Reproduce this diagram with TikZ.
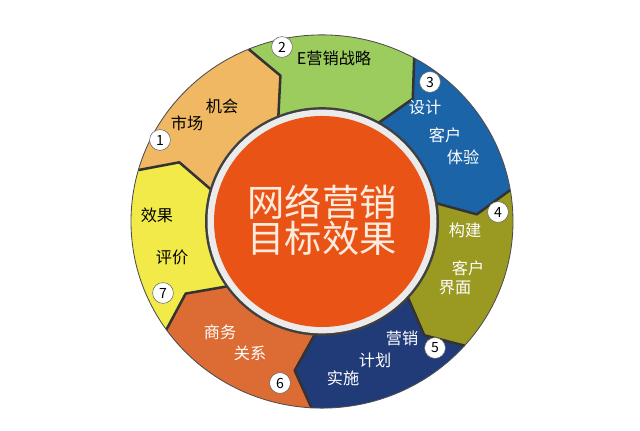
\documentclass[tikz,border=0pt]{standalone}
\usepackage{fontspec}
\setmainfont{Noto Sans CJK SC}

\definecolor{segone}{HTML}{F0B862}
\definecolor{segtwo}{HTML}{9CCB5E}
\definecolor{segthree}{HTML}{1B64A8}
\definecolor{segfour}{HTML}{9A9A22}
\definecolor{segfive}{HTML}{213A78}
\definecolor{segsix}{HTML}{DC6C34}
\definecolor{segseven}{HTML}{F2EA48}
\definecolor{hubfill}{HTML}{EA5316}
\definecolor{hubtext}{HTML}{FDEBDD}

\begin{document}
\begin{tikzpicture}[
    x=0.025cm, y=0.025cm,
    edge/.style={line width=1.8pt, draw=black!80, line join=round},
    rim/.style={line width=0.6pt, draw=black!70},
    badge/.style={circle, draw=black!60, fill=white, minimum size=0.52cm, inner sep=0pt, font=\fontsize{10}{10}\selectfont},
    segtext/.style={inner sep=0pt, font=\fontsize{11.5}{12}\selectfont},
    darktext/.style={segtext, text=black},
    lighttext/.style={segtext, text=white},
    goaltext/.style={align=center, text=hubtext, font=\fontsize{26.5}{26}\selectfont}
]

    \useasboundingbox (0,0) rectangle (640,431);
    \fill[white] (0,0) rectangle (640,431);

    \begin{scope}[shift={(322,209.5)}, yscale=0.977]
        % Segments
        \fill[segone] (164:191) arc[start angle=164, end angle=112.57, radius=191] -- (105.57:155) -- (112.57:114) arc[start angle=112.57, end angle=164, radius=114] -- (157:155) -- cycle;
        \fill[segtwo] (112.57:191) arc[start angle=112.57, end angle=61.14, radius=191] -- (54.14:155) -- (61.14:114) arc[start angle=61.14, end angle=112.57, radius=114] -- (105.57:155) -- cycle;
        \fill[segthree] (61.14:191) arc[start angle=61.14, end angle=9.71, radius=191] -- (2.71:155) -- (9.71:114) arc[start angle=9.71, end angle=61.14, radius=114] -- (54.14:155) -- cycle;
        \fill[segfour] (9.71:191) arc[start angle=9.71, end angle=-41.71, radius=191] -- (-48.71:155) -- (-41.71:114) arc[start angle=-41.71, end angle=9.71, radius=114] -- (2.71:155) -- cycle;
        \fill[segfive] (-41.71:191) arc[start angle=-41.71, end angle=-93.14, radius=191] -- (-100.14:155) -- (-93.14:114) arc[start angle=-93.14, end angle=-41.71, radius=114] -- (-48.71:155) -- cycle;
        \fill[segsix] (-93.14:191) arc[start angle=-93.14, end angle=-144.57, radius=191] -- (-151.57:155) -- (-144.57:114) arc[start angle=-144.57, end angle=-93.14, radius=114] -- (-100.14:155) -- cycle;
        \fill[segseven] (-144.57:191) arc[start angle=-144.57, end angle=-196, radius=191] -- (-203:155) -- (-196:114) arc[start angle=-196, end angle=-144.57, radius=114] -- (-151.57:155) -- cycle;

        % Chevron edges
        \draw[edge] (164:191) -- (157:155) -- (164:114);
        \draw[edge] (112.57:191) -- (105.57:155) -- (112.57:114);
        \draw[edge] (61.14:191) -- (54.14:155) -- (61.14:114);
        \draw[edge] (9.71:191) -- (2.71:155) -- (9.71:114);
        \draw[edge] (-41.71:191) -- (-48.71:155) -- (-41.71:114);
        \draw[edge] (-93.14:191) -- (-100.14:155) -- (-93.14:114);
        \draw[edge] (-144.57:191) -- (-151.57:155) -- (-144.57:114);
        \draw[rim] (0,0) circle[radius=191];

        % Hub
        \fill[black!75] (0,0) circle[radius=117];
        \fill[black!8] (0,0) circle[radius=114.5];
        \fill[hubfill] (0,0) circle[radius=108];
    \end{scope}

    % Goal
    \node (goal) [goaltext] at (322,211) {网络营销\\目标效果};

    % Badges
    \node (one) [badge] at (160,291) {1};
    \node (two) [badge] at (282,384) {2};
    \node (three) [badge] at (430,349) {3};
    \node (four) [badge] at (498,219) {4};
    \node (five) [badge] at (435,83) {5};
    \node (six) [badge] at (280,48) {6};
    \node (seven) [badge] at (163,138) {7};

    % Segment texts
    \node (market) [darktext] at (187,308) {市场};
    \node (chance) [darktext] at (222,325) {机会};
    \node (strategy) [darktext] at (334,373) {E营销战略};
    \node (design) [lighttext] at (425,324) {设计};
    \node (client) [lighttext] at (445,296) {客户};
    \node (experience) [lighttext] at (463,274) {体验};
    \node (build) [lighttext] at (465,201) {构建};
    \node (user) [lighttext] at (468,163) {客户};
    \node (interface) [lighttext] at (455,143) {界面};
    \node (promo) [lighttext] at (402,93) {营销};
    \node (plan) [lighttext] at (375,71) {计划};
    \node (apply) [lighttext] at (343,53) {实施};
    \node (business) [lighttext] at (220,99) {商务};
    \node (relation) [lighttext] at (250,78) {关系};
    \node (effect) [darktext] at (157,216) {效果};
    \node (review) [darktext] at (172,174) {评价};

\end{tikzpicture}
\end{document}
